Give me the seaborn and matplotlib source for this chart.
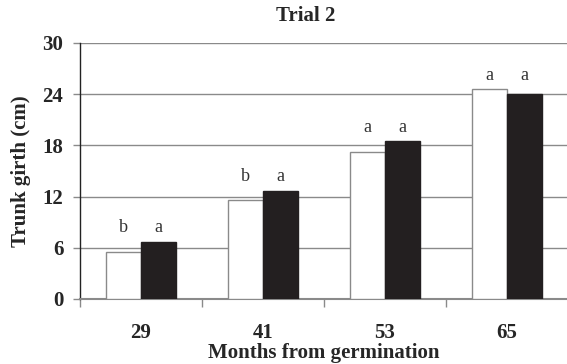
import matplotlib
matplotlib.use("Agg")
import matplotlib.pyplot as plt
import seaborn as sns
import pandas as pd

# Trunk girth by age, two treatments
months = ["29", "41", "53", "65"]
treatment_a = [5.5, 11.6, 17.2, 24.6]
treatment_b = [6.7, 12.7, 18.5, 24.0]
letters_a = ["b", "b", "a", "a"]
letters_b = ["a", "a", "a", "a"]
yticks = [0, 6, 12, 18, 24, 30]

sns.set_theme(style="white")
plt.rcParams["font.family"] = ["Liberation Serif", "DejaVu Serif"]

df = pd.DataFrame({
    "month": months * 2,
    "girth": treatment_a + treatment_b,
    "group": ["A"] * len(months) + ["B"] * len(months),
})

fig = plt.figure(figsize=(5.67, 3.64), dpi=100)
ax = fig.add_axes([80 / 567, 1 - 299 / 364, 488 / 567, 256 / 364])

sns.barplot(data=df, x="month", y="girth", hue="group", order=months,
            hue_order=["A", "B"], palette=["white", "#231f20"],
            width=0.574, gap=0, dodge=True, ax=ax, legend=False,
            saturation=1, zorder=3)

for patch in ax.patches:
    fc = patch.get_facecolor()
    if fc[0] > 0.5:
        patch.set_edgecolor("#8a8a8a")
    else:
        patch.set_edgecolor("#231f20")
    patch.set_linewidth(1.0)

# significance letters above each bar pair
bw = 0.574 / 2
for i in range(len(months)):
    top = max(treatment_a[i], treatment_b[i])
    ax.text(i - bw / 2, top + 1.1, letters_a[i], ha="center", va="baseline",
            fontsize=13, color="#333333")
    ax.text(i + bw / 2, top + 1.1, letters_b[i], ha="center", va="baseline",
            fontsize=13, color="#333333")

ax.set_xlim(-0.5, 3.5)
ax.set_ylim(0, 30)
ax.set_yticks(yticks)
ax.set_yticklabels([str(t) for t in yticks], fontweight="bold", fontsize=15)
ax.yaxis.grid(True, color="#8a8a8a", linewidth=1.0, zorder=0)
ax.set_axisbelow(True)

ax.set_xticks(range(len(months)))
ax.set_xticklabels(months, fontweight="bold", fontsize=15)
ax.tick_params(axis="x", which="major", length=0, pad=17)
ax.set_xticks([-0.5, 0.5, 1.5, 2.5], minor=True)
ax.tick_params(axis="x", which="minor", length=5.5, width=1.0, color="#8a8a8a", direction="out", bottom=True)
ax.tick_params(axis="y", length=5, width=1.0, color="#8a8a8a", direction="out", left=True, pad=7)

for s in ["top", "right"]:
    ax.spines[s].set_visible(False)
ax.spines["left"].set_color("#222222")
ax.spines["left"].set_linewidth(1.0)
ax.spines["bottom"].set_color("#8a8a8a")
ax.spines["bottom"].set_linewidth(1.5)

ax.set_xlabel("Months from germination", fontweight="bold", fontsize=15, labelpad=0)
ax.set_ylabel("Trunk girth (cm)", fontweight="bold", fontsize=15, labelpad=8)

fig.text(306 / 567, 1 - 16 / 364, "Trial 2", ha="center", va="center",
         fontweight="bold", fontsize=15)

fig.savefig("out.png", dpi=100)
